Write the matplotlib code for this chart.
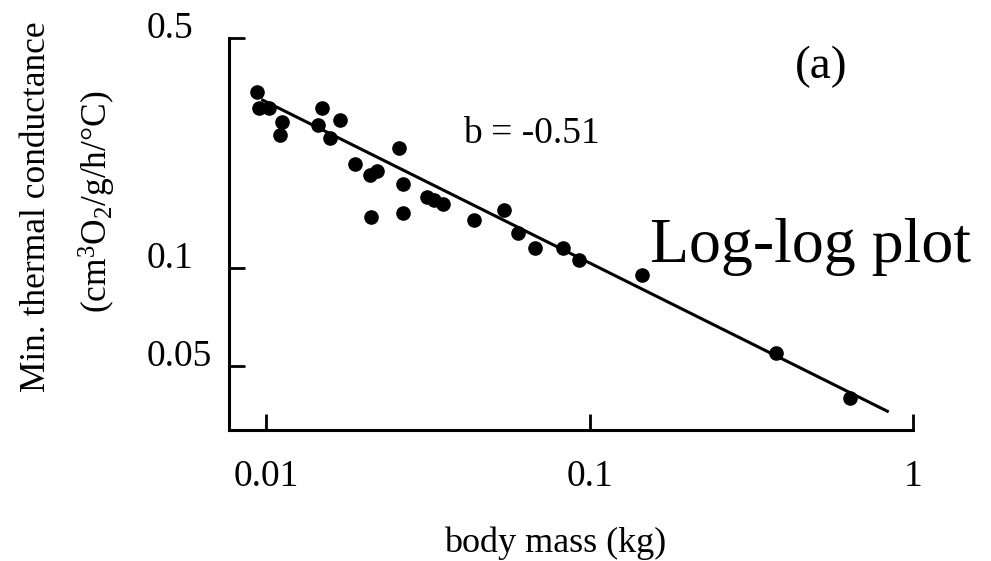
import matplotlib
matplotlib.use("Agg")
import matplotlib.pyplot as plt

plt.rcParams['font.family'] = ['Liberation Serif', 'DejaVu Serif']
plt.rcParams['mathtext.fontset'] = 'custom'
plt.rcParams['mathtext.rm'] = 'Liberation Serif'
plt.rcParams['mathtext.it'] = 'Liberation Serif:italic'

# body mass (kg) and min. thermal conductance
mass = [0.00937, 0.00948, 0.01021, 0.01120, 0.01100, 0.01490, 0.01446,
        0.01689, 0.01579, 0.01887, 0.02095, 0.02195, 0.02581, 0.02654,
        0.02105, 0.02643, 0.03146, 0.03292, 0.03529, 0.04378, 0.05421,
        0.05996, 0.06796, 0.08270, 0.09240, 0.14550, 0.37630, 0.63890]
conductance = [0.3428, 0.3050, 0.3070, 0.2777, 0.2529, 0.3070, 0.2714,
               0.2811, 0.2488, 0.2063, 0.1909, 0.1968, 0.2313, 0.1801,
               0.1424, 0.1465, 0.1639, 0.1601, 0.1564, 0.1398, 0.1493,
               0.1273, 0.1143, 0.1143, 0.1053, 0.0947, 0.05499, 0.04006]

# fitted line end points
fit_mass = [0.00975, 0.833]
fit_cond = [0.3234, 0.0365]

x_ticks = [0.01, 0.1, 1]
x_labels = ['0.01', '0.1', '1']
y_ticks = [0.05, 0.1, 0.5]
y_labels = ['0.05', '0.1', '0.5']

W, H = 991, 561
fig = plt.figure(figsize=(W / 100, H / 100), dpi=100)
ax = fig.add_axes([229 / W, (H - 430) / H, (913 - 229) / W, (430 - 38) / H])

ax.plot(mass, conductance, 'o', color='black', ms=9.5, mec='black')
ax.plot(fit_mass, fit_cond, '-', color='black', lw=2.2)

ax.set_xscale('log')
ax.set_yscale('log')
ax.set_xlim(0.00767, 1)
ax.set_ylim(0.032, 0.5)

ax.set_xticks(x_ticks)
ax.set_xticklabels(x_labels)
ax.set_yticks(y_ticks)
ax.set_yticklabels(y_labels)
ax.minorticks_off()

for s in ['top', 'right']:
    ax.spines[s].set_visible(False)
for s in ['left', 'bottom']:
    ax.spines[s].set_linewidth(2.2)

ax.tick_params(axis='both', direction='in', length=11.5, width=2.0,
               labelsize=27)
ax.tick_params(axis='x', pad=21)
ax.tick_params(axis='y', pad=59)
for lab in ax.get_yticklabels():
    lab.set_horizontalalignment('left')
    lab.set_verticalalignment('baseline')

fig.text(555 / W, (H - 543) / H, 'body mass (kg)', fontsize=26,
         ha='center', va='center')
fig.text(37 / W, (H - 207) / H, 'Min. thermal conductance', fontsize=25.5,
         rotation=90, ha='center', va='center')
fig.text(97 / W, (H - 202) / H, r'(cm$^3$O$_2$/g/h/°C)', fontsize=25.5,
         rotation=90, ha='center', va='center')

fig.text(463 / W, (H - 143) / H, 'b = -0.51', fontsize=27, ha='left',
         va='baseline')
fig.text(821 / W, (H - 67) / H, '(a)', fontsize=34, ha='center', va='center')
fig.text(650 / W, (H - 262) / H, 'Log-log plot', fontsize=46, ha='left',
         va='baseline')

fig.savefig('out.png', dpi=100)
